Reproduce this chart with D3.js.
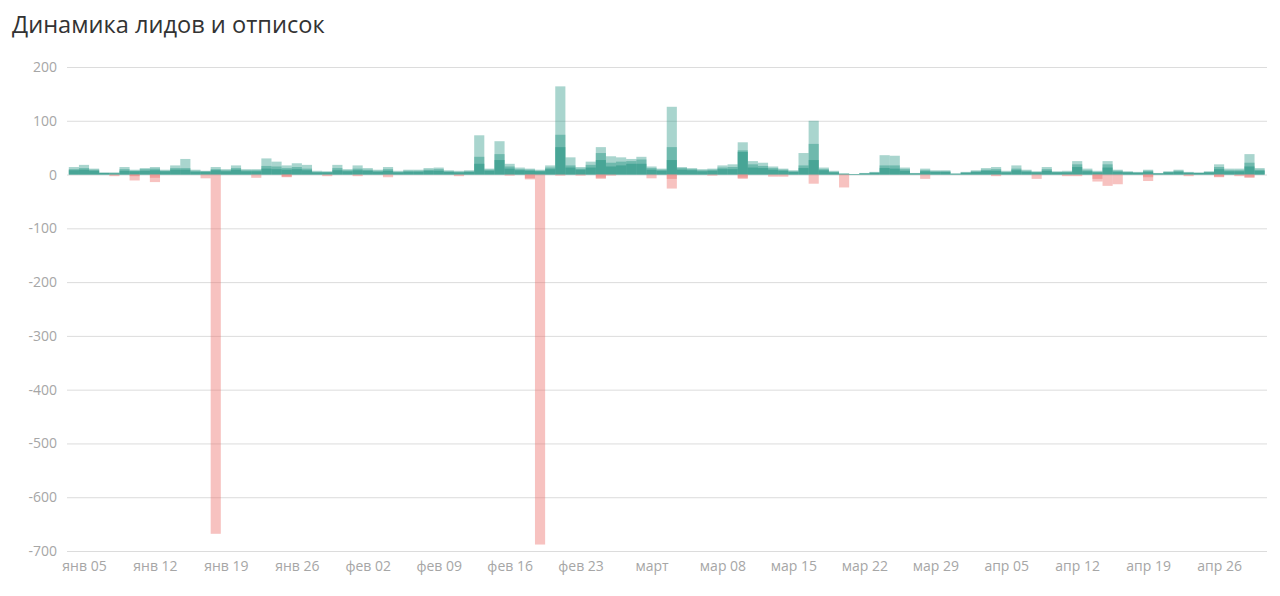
<!DOCTYPE html>
<html>
<head>
<meta charset="utf-8">
<script src="https://cdn.jsdelivr.net/npm/d3@7"></script>
<style>
  html, body { margin: 0; padding: 0; background: #fff; }
  svg { display: block; font-family: "Open Sans", sans-serif; }
</style>
</head>
<body>
<svg id="chart" width="1280" height="596"></svg>
<script>
// ---- data ----
const title = "Динамика лидов и отписок";
const firstDay = Date.UTC(2020, 0, 4);
const days = d3.utcDays(firstDay, Date.UTC(2020, 4, 1)); // Jan 4 .. Apr 30 (118 days)

const yTicks = [200, 100, 0, -100, -200, -300, -400, -500, -600, -700];
const shortMonths = ["янв", "фев", "мар", "апр", "май", "июн", "июл", "авг", "сен", "окт", "ноя", "дек"];
const fullMonths = ["январь", "февраль", "март", "апрель", "май", "июнь", "июль", "август", "сентябрь", "октябрь", "ноябрь", "декабрь"];

// leads, three overlaid traces
const leadsA = [
  14,18,11,4,4,14,9,12,14,9,
  17,29,9,7,14,10,17,10,10,30,
  24,17,21,18,7,6,18,10,17,12,
  9,14,7,9,9,12,13,8,7,8,
  73,11,62,20,13,11,9,17,164,32,
  14,24,51,34,32,29,33,15,11,126,
  14,12,10,11,17,19,60,25,22,15,
  11,8,40,100,13,7,2,1,3,5,
  36,35,13,3,11,8,8,2,5,8,
  12,14,7,17,9,6,14,6,7,25,
  11,7,25,9,6,5,9,3,6,9,
  5,4,6,19,11,11,38,12
];
const leadsB = [
  10,12,9,3,3,10,7,10,11,7,
  12,12,7,6,10,8,12,8,8,16,
  15,12,14,11,5,5,12,8,11,9,
  7,10,5,7,7,9,10,6,5,6,
  33,9,38,15,10,9,7,13,74,17,
  11,18,40,22,24,25,28,12,9,51,
  12,10,8,9,13,14,45,19,16,12,
  9,6,17,57,10,5,2,1,2,4,
  17,17,10,2,8,6,6,2,4,6,
  9,10,5,11,7,5,10,5,5,19,
  8,5,19,7,5,4,7,2,5,7,
  4,3,5,14,8,8,22,9
];
const leadsC = [
  8,9,7,3,2,7,6,7,8,6,
  9,9,5,5,8,6,9,6,6,11,
  10,9,10,8,4,4,8,6,8,7,
  5,7,4,5,5,7,7,5,4,5,
  20,7,27,11,8,7,6,10,51,13,
  9,13,27,15,17,20,20,9,7,27,
  9,8,6,7,10,10,42,13,12,9,
  7,5,12,27,8,4,1,1,2,3,
  12,11,7,2,6,5,5,1,3,5,
  7,7,4,8,5,4,7,4,4,14,
  6,4,13,5,4,3,5,2,4,5,
  3,3,4,10,6,6,15,7
];
// unsubscribes, two overlaid traces
const unsubA = [
  0,0,0,0,-3,0,-11,0,-14,0,
  0,0,0,-7,-668,0,0,0,-6,0,
  0,-5,0,0,0,-3,0,0,-3,0,
  0,-5,0,0,0,0,0,0,-3,0,
  0,0,0,-2,0,-9,-688,0,-2,0,
  -2,0,-8,-2,0,0,0,-7,0,-26,
  0,0,0,-2,0,0,-8,0,0,-4,
  -4,0,0,-17,0,0,-24,0,0,0,
  0,0,0,0,-8,0,0,0,0,0,
  0,-3,0,0,0,-8,0,0,-3,-3,
  0,-13,-21,-18,0,0,-12,0,0,0,
  -3,0,0,-5,0,-3,-6,0
];
const unsubB = [
  0,0,0,0,0,0,-3,0,-6,0,
  0,0,0,0,0,0,0,0,0,0,
  0,-4,0,0,0,0,0,0,0,0,
  0,0,0,0,0,0,0,0,0,0,
  0,0,0,0,0,-7,0,0,0,0,
  0,0,-6,0,0,0,0,0,0,-8,
  0,0,0,0,0,0,-6,0,0,0,
  0,0,0,0,0,0,0,0,0,0,
  0,0,0,0,0,0,0,0,0,0,
  0,0,0,0,0,0,0,0,0,0,
  0,-8,0,0,0,0,-5,0,0,0,
  0,0,0,-4,0,0,-5,0
];

// ---- layout ----
const svg = d3.select("#chart");
const mLeft = 67, mRight = 1267, mTop = 67, mBottom = 551;
const DAY = 864e5;

const x = d3.scaleUtc()
  .domain([new Date(Date.UTC(2020, 0, 3, 7, 45)), new Date(Date.UTC(2020, 3, 30, 17, 30))])
  .range([mLeft, mRight]);
const y = d3.scaleLinear().domain([-700, 200]).range([mBottom, mTop]);

svg.append("text")
  .attr("x", 12).attr("y", 33)
  .attr("font-size", 23.6).attr("fill", "#333")
  .text(title);

// grid
const grid = svg.append("g")
  .attr("transform", `translate(${mLeft},0)`)
  .call(d3.axisLeft(y).tickValues(yTicks).tickSize(-(mRight - mLeft)).tickFormat(d => d));
grid.select(".domain").remove();
grid.selectAll(".tick line").attr("stroke", "#dcdcdc").attr("stroke-width", 1);
grid.selectAll(".tick text")
  .attr("x", -10).attr("fill", "#a6a6a6")
  .attr("font-size", 14).attr("font-family", "Open Sans, sans-serif");

// x axis labels
const xTicks = d3.utcSunday.range(new Date(Date.UTC(2020, 0, 5)), new Date(Date.UTC(2020, 3, 27)));
const fmtDay = d3.utcFormat("%d");
const xAxis = svg.append("g")
  .attr("transform", `translate(0,${mBottom})`)
  .call(d3.axisBottom(x).tickValues(xTicks).tickSize(0).tickPadding(10)
    .tickFormat(d => d.getUTCDate() === 1 ? fullMonths[d.getUTCMonth()] : shortMonths[d.getUTCMonth()] + " " + fmtDay(d)));
xAxis.select(".domain").remove();
xAxis.selectAll(".tick text")
  .attr("fill", "#a6a6a6").attr("font-size", 14).attr("font-family", "Open Sans, sans-serif");

// bars
const bars = svg.append("g");
function drawSeries(values, color, opacity) {
  bars.append("g").selectAll("rect")
    .data(values.map((v, i) => ({ v, d: days[i] })).filter(o => o.v !== 0))
    .join("rect")
    .attr("x", o => x(new Date(+o.d - DAY / 2)))
    .attr("width", o => x(new Date(+o.d + DAY / 2)) - x(new Date(+o.d - DAY / 2)))
    .attr("y", o => Math.min(y(o.v), y(0)))
    .attr("height", o => Math.abs(y(o.v) - y(0)))
    .attr("fill", color)
    .attr("fill-opacity", opacity);
}
const leadColor = "rgb(40,150,132)";
const unsubColor = "rgb(235,110,105)";
drawSeries(leadsA, leadColor, 0.4);
drawSeries(leadsB, leadColor, 0.45);
drawSeries(leadsC, leadColor, 0.55);
drawSeries(unsubA, unsubColor, 0.42);
drawSeries(unsubB, unsubColor, 0.42);
</script>
</body>
</html>
